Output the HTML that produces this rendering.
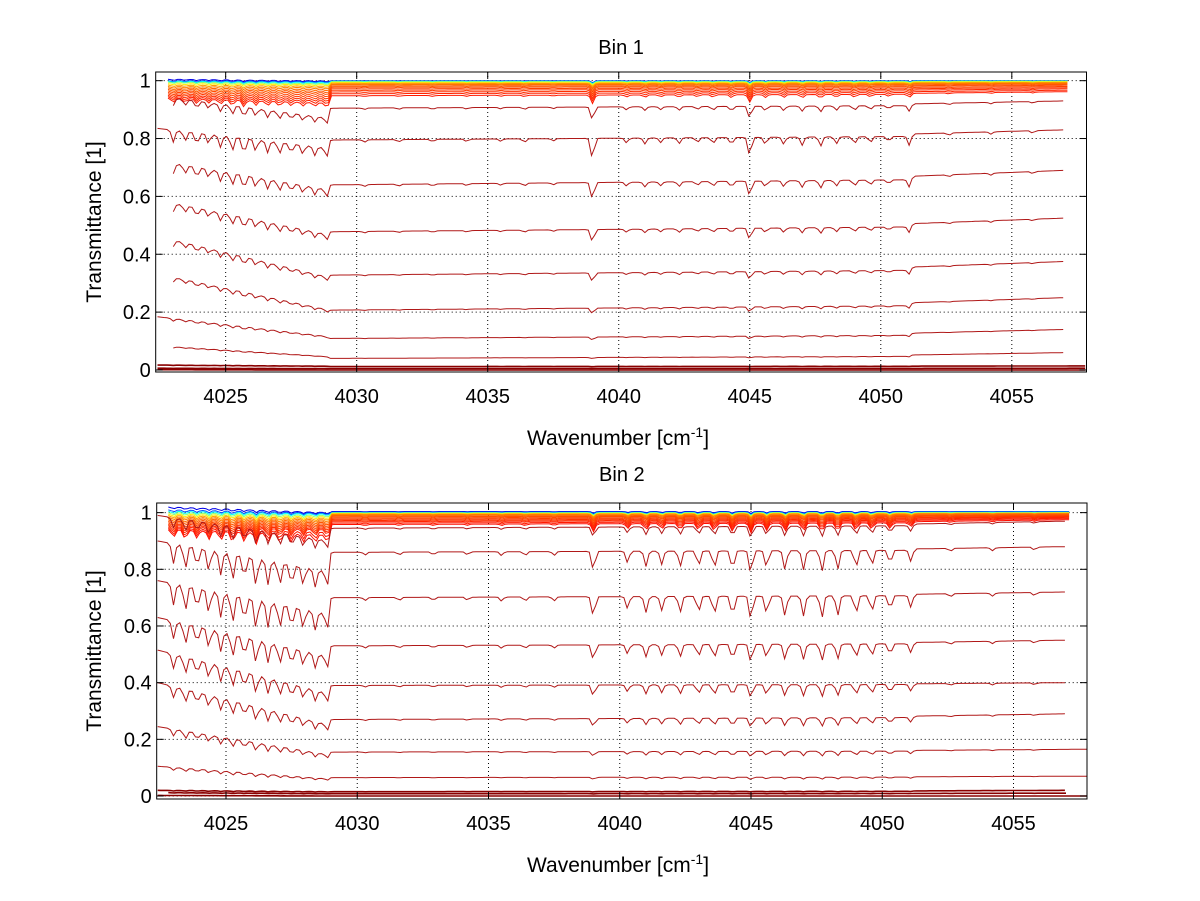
<!DOCTYPE html>
<html><head><meta charset="utf-8"><style>
html,body{margin:0;padding:0;background:#fff;}
svg{display:block;font-family:"Liberation Sans",sans-serif;}
</style></head><body>
<svg id="chart" width="1200" height="901" viewBox="0 0 1200 901" xmlns="http://www.w3.org/2000/svg">
<rect width="1200" height="901" fill="#fff"/>
</svg>
<script>
// ---- data ----
const xTicks = [4025,4030,4035,4040,4045,4050,4055];
const yTicks = [0,0.2,0.4,0.6,0.8,1];
const yTickLabels = ["0","0.2","0.4","0.6","0.8","1"];
const linePos = [4023.0,4023.45,4023.9,4024.35,4024.8,4025.25,4025.7,4026.15,4026.6,4027.05,4027.5,4027.95,4028.4,4028.85,
 4030.3,4031.6,4032.9,4034.2,4035.5,4036.4,4037.5,4039.0,4040.3,4041.0,4041.6,4042.3,4043.0,4043.6,4044.3,4045.0,4045.6,4046.3,4047.0,4047.7,4048.3,4049.0,4049.6,4050.3,4051.1,4052.6,4054.2,4055.8];
const lineDepth1 = [0.05,0.04,0.05,0.04,0.05,0.06,0.07,0.05,0.05,0.05,0.04,0.04,0.04,0.04,
 0.01,0.01,0.01,0.01,0.01,0.015,0.01,0.09,0.02,0.025,0.02,0.025,0.02,0.025,0.03,0.08,0.03,0.03,0.035,0.04,0.03,0.03,0.025,0.02,0.04,0.01,0.01,0.01];
const lineDepth2 = [0.1,0.12,0.1,0.11,0.12,0.14,0.12,0.15,0.13,0.12,0.11,0.1,0.1,0.08,
 0.015,0.015,0.015,0.015,0.02,0.02,0.02,0.1,0.06,0.08,0.07,0.08,0.08,0.09,0.1,0.12,0.09,0.1,0.1,0.11,0.1,0.09,0.08,0.07,0.06,0.015,0.015,0.015];
// Bin 1 curves
const b1Start = [4022.8,4022.8,4022.8,4022.8,4022.8,4022.8,4022.8,4022.8,4022.8,4022.8,4022.8,4022.8,4022.8,4022.8,4022.8,
 4023.0,4022.4,4023.0,4023.0,4023.0,4023.0,4022.4,4023.0,4022.4,4022.4,4022.4];
const b1End = [4057.2,4057.2,4057.2,4057.2,4057.2,4057.2,4057.2,4057.2,4057.2,4057.2,4057.2,4057.2,4057.2,4057.2,4057.2,
 4057.0,4057.0,4057.0,4057.0,4057.0,4057.0,4057.0,4057.0,4057.8,4057.8,4057.8];
const b1LvStart = [1.005,1.0,0.998,0.995,0.99,0.985,0.98,0.975,0.97,0.965,0.96,0.955,0.95,0.945,0.94,
 0.94,0.835,0.714,0.576,0.449,0.32,0.184,0.08,0.017,0.006,0.001];
const b1LvPre = [0.999,0.997,0.994,0.99,0.986,0.981,0.976,0.97,0.964,0.958,0.951,0.944,0.937,0.93,0.922,
 0.87,0.766,0.622,0.467,0.32,0.207,0.115,0.046,0.013,0.005,0.0];
const b1LvMid = [1.0,0.999,0.998,0.996,0.994,0.991,0.988,0.985,0.981,0.977,0.972,0.967,0.961,0.955,0.948,
 0.905,0.795,0.64,0.478,0.328,0.207,0.109,0.04,0.012,0.005,0.0];
const b1LvRight = [1.0,1.0,0.999,0.998,0.996,0.994,0.992,0.99,0.987,0.984,0.98,0.976,0.972,0.967,0.962,
 0.93,0.83,0.69,0.525,0.375,0.25,0.14,0.06,0.014,0.006,0.0];
// Bin 2 curves
const b2Start = [4022.8,4022.8,4022.8,4022.8,4022.8,4022.8,4022.8,4022.8,4022.8,4022.8,4022.8,4022.8,4022.8,4022.8,4022.8,4022.8,
 4022.4,4022.4,4022.4,4022.4,4022.4,4022.4,4022.4,4022.4,4022.4,4022.8,4022.4];
const b2End = [4057.2,4057.2,4057.2,4057.2,4057.2,4057.2,4057.2,4057.2,4057.2,4057.2,4057.2,4057.2,4057.2,4057.2,4057.2,4057.2,
 4057.0,4057.0,4057.0,4057.0,4057.0,4057.0,4057.8,4057.8,4057.0,4057.0,4057.8];
const b2LvStart = [1.02,1.01,1.005,1.0,0.995,0.99,0.985,0.98,0.975,0.97,0.965,0.96,0.955,0.95,0.945,0.94,
 0.99,0.9,0.76,0.63,0.515,0.4,0.245,0.105,0.02,0.012,0.002];
const b2LvPre = [1.0,0.998,0.995,0.99,0.985,0.98,0.975,0.97,0.965,0.96,0.955,0.95,0.945,0.94,0.93,0.92,
 0.9,0.79,0.64,0.49,0.36,0.25,0.145,0.06,0.015,0.008,0.0];
const b2LvMid = [1.004,1.002,1.0,0.999,0.997,0.995,0.993,0.99,0.987,0.984,0.98,0.976,0.972,0.968,0.963,0.958,
 0.945,0.86,0.7,0.53,0.39,0.27,0.155,0.065,0.015,0.008,0.0];
const b2LvRight = [1.004,1.003,1.002,1.0,0.999,0.998,0.997,0.995,0.993,0.991,0.989,0.987,0.985,0.982,0.979,0.975,
 0.97,0.88,0.72,0.55,0.4,0.29,0.165,0.07,0.02,0.01,0.0];

// ---- drawing ----
const NS = "http://www.w3.org/2000/svg";
const svg = document.getElementById('chart');
function mk(tag, attrs, parent){ const e=document.createElementNS(NS,tag); for(const k in attrs) e.setAttribute(k,attrs[k]); (parent||svg).appendChild(e); return e; }

function jet(t){
  const c = v => Math.max(0, Math.min(1, v));
  const r = c(1.5 - Math.abs(4*t - 3)), g = c(1.5 - Math.abs(4*t - 2)), b = c(1.5 - Math.abs(4*t - 1));
  return `rgb(${Math.round(r*255)},${Math.round(g*255)},${Math.round(b*255)})`;
}
const clusterT = [0.1,0.2,0.38,0.52,0.64,0.72,0.75,0.77,0.79,0.8,0.81,0.82,0.83,0.84,0.85,0.86];
function colorFor(mid, clusterCount, idx){
  if (idx < clusterCount) return jet(clusterT[idx]);
  if (mid < 0.02) return '#8a0000';
  return '#b01818';
}

function drawPanel(cfg){
  const {L,R,T,B,xmin,xmax,ymin,ymax,title,titleY,starts,ends,lvS,lvP,lvM,lvR,depths,cluster,prefix} = cfg;
  const g = mk('g',{});
  
  
  const sx = v => L + (v - xmin)/(xmax - xmin)*(R - L);
  const sy = v => B - (v - ymin)/(ymax - ymin)*(B - T);
  xTicks.forEach(v=>{
    const l = mk('line',{x1:sx(v),x2:sx(v),y1:T,y2:B,stroke:'#000','stroke-width':1,'stroke-dasharray':'1,3'},g);
    
    
  });
  yTicks.forEach(v=>{
    const l = mk('line',{x1:L,x2:R,y1:sy(v),y2:sy(v),stroke:'#000','stroke-width':1,'stroke-dasharray':'1,3'},g);
    
    
  });
  const clip = mk('clipPath',{id:prefix+'clip'},g);
  mk('rect',{x:L,y:T,width:R-L,height:B-T},clip);
  const cg = mk('g',{'clip-path':`url(#${prefix}clip)`},g);
  const order = [];
  for (let i=0;i<starts.length;i++) order.push(i);
  order.forEach(i=>{
    const fac = Math.min(1, (1 - lvM[i]) * 5 + 0.08);
    const base = x => {
      if (x <= 4028.95) return lvS[i] + (lvP[i]-lvS[i]) * (x - starts[i]) / (4028.95 - starts[i]);
      if (x <= 4051.1) return lvM[i] + (lvR[i]-lvM[i]) * 0.35 * (x - 4029.15) / (4051.1 - 4029.15);
      return lvM[i] + (lvR[i]-lvM[i]) * (0.6 + 0.4 * (x - 4051.3) / (ends[i] - 4051.3));
    };
    let d = '';
    for (let x = starts[i]; x <= ends[i] + 1e-9; x += 0.12) {
      let p = 0;
      for (let j=0;j<linePos.length;j++){ const u=(x-linePos[j])/0.09; if (Math.abs(u)<4) p += depths[j]*Math.exp(-u*u); }
      const v = base(x) * (1 - fac * Math.min(0.6,p));
      d += (d ? 'L' : 'M') + sx(x).toFixed(1) + ',' + sy(v).toFixed(1);
    }
    const sw = lvM[i] < 0.02 ? 1.6 : 1;
    const path = mk('path',{d, fill:'none', stroke: colorFor(lvM[i], cluster, i), 'stroke-width':sw},cg);
    
    
  });
  const box = mk('rect',{x:L,y:T,width:R-L,height:B-T,fill:'none',stroke:'#000','stroke-width':1},g);
  
  
  xTicks.forEach(v=>{
    mk('line',{x1:sx(v),x2:sx(v),y1:B,y2:B-7,stroke:'#000'},g);
    mk('line',{x1:sx(v),x2:sx(v),y1:T,y2:T+7,stroke:'#000'},g);
    const t = mk('text',{x:sx(v),y:B+31,'text-anchor':'middle','font-size':20,fill:'#000'},g);
    t.textContent = String(v);
    
    
  });
  yTicks.forEach((v,k)=>{
    mk('line',{x1:L,x2:L+7,y1:sy(v),y2:sy(v),stroke:'#000'},g);
    mk('line',{x1:R,x2:R-7,y1:sy(v),y2:sy(v),stroke:'#000'},g);
    const t = mk('text',{x:L-5,y:sy(v)+7,'text-anchor':'end','font-size':20,fill:'#000'},g);
    t.textContent = yTickLabels[k];
    
    
  });
  const tt = mk('text',{x:(L+R)/2,y:titleY,'text-anchor':'middle','font-size':20,fill:'#000'},g);
  tt.textContent = title;
  
  
  const xl = mk('text',{x:618,y:B+73,'text-anchor':'middle','font-size':21,fill:'#000'},g);
  xl.innerHTML = 'Wavenumber [cm<tspan dy="-8" font-size="14">-1</tspan><tspan dy="8">]</tspan>';
  
  
  const yl = mk('text',{x:0,y:0,'text-anchor':'middle','font-size':21,fill:'#000',transform:`translate(101,${(T+B)/2}) rotate(-90)`},g);
  yl.textContent = 'Transmittance [1]';
  
  
}

drawPanel({L:155.7,R:1086.5,T:72,B:372,xmin:4022.33,xmax:4057.85,ymin:-0.007,ymax:1.030,title:'Bin 1',titleY:54,
  starts:b1Start,ends:b1End,lvS:b1LvStart,lvP:b1LvPre,lvM:b1LvMid,lvR:b1LvRight,depths:lineDepth1,cluster:15,prefix:'bin1'});
drawPanel({L:156.7,R:1087,T:503,B:799,xmin:4022.36,xmax:4057.80,ymin:-0.0106,ymax:1.034,title:'Bin 2',titleY:481,
  starts:b2Start,ends:b2End,lvS:b2LvStart,lvP:b2LvPre,lvM:b2LvMid,lvR:b2LvRight,depths:lineDepth2,cluster:16,prefix:'bin2'});
</script>
</body></html>
